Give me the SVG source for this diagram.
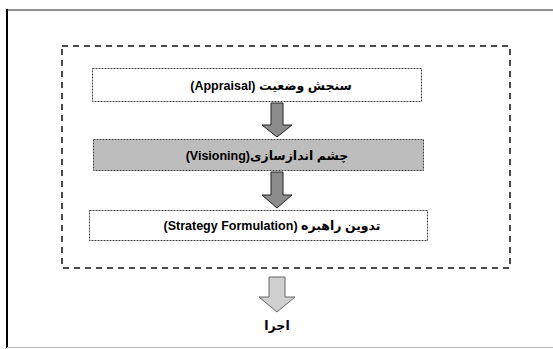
<svg xmlns="http://www.w3.org/2000/svg" width="553" height="349" viewBox="0 0 553 349">
<style>
.lbl{font-family:"Liberation Sans","DejaVu Sans",Arial,sans-serif;font-weight:bold;font-size:12.5px;fill:#000;text-anchor:middle;direction:rtl;unicode-bidi:embed}
.box{stroke:#444;stroke-width:1;stroke-dasharray:2,1}
.arr{fill:#8c8c8c;stroke:#222;stroke-width:1}
</style>
<rect width="553" height="349" fill="#fff"/>
<g id="frame">
<line x1="7" y1="9" x2="7" y2="348" stroke="#000" stroke-width="2"/>
<line x1="7" y1="10" x2="553" y2="10" stroke="#222" stroke-width="1.2"/>
<line x1="7" y1="347.5" x2="553" y2="347.5" stroke="#bbb" stroke-width="1"/>
</g>
<g id="group-box">
<rect x="62" y="46" width="448" height="222" fill="none" stroke="#111" stroke-width="1.5" stroke-dasharray="6,5"/>
</g>
<g id="appraisal">
<rect class="box" x="92.5" y="68.5" width="329" height="33" fill="#fff"/>
<text class="lbl" x="271" y="90">سنجش وضعیت  (Appraisal)</text>
</g>
<g id="visioning">
<rect class="box" x="93.5" y="139.5" width="330" height="31" fill="#bdbdbd" stroke="#333"/>
<text class="lbl" x="267" y="160">چشم اندازسازی(Visioning)</text>
</g>
<g id="strategy">
<rect class="box" x="89.5" y="210.5" width="338" height="30" fill="#fff"/>
<text class="lbl" x="272" y="230">تدوین راهبره (Strategy Formulation)</text>
</g>
<g id="implementation">
<text class="lbl" x="277" y="330">اجرا</text>
</g>
<g id="connectors">
<path class="arr" d="M271,103 H283 V125 H292 L277,137 L262,125 H271 Z"/>
<path class="arr" d="M271,172 H283 V195 H292 L277,208 L262,195 H271 Z"/>
<path d="M269,277 H285 V297 H295 L277,312 L259,297 H269 Z" fill="#d0d0d0" stroke="#666" stroke-width="1"/>
</g>
</svg>
